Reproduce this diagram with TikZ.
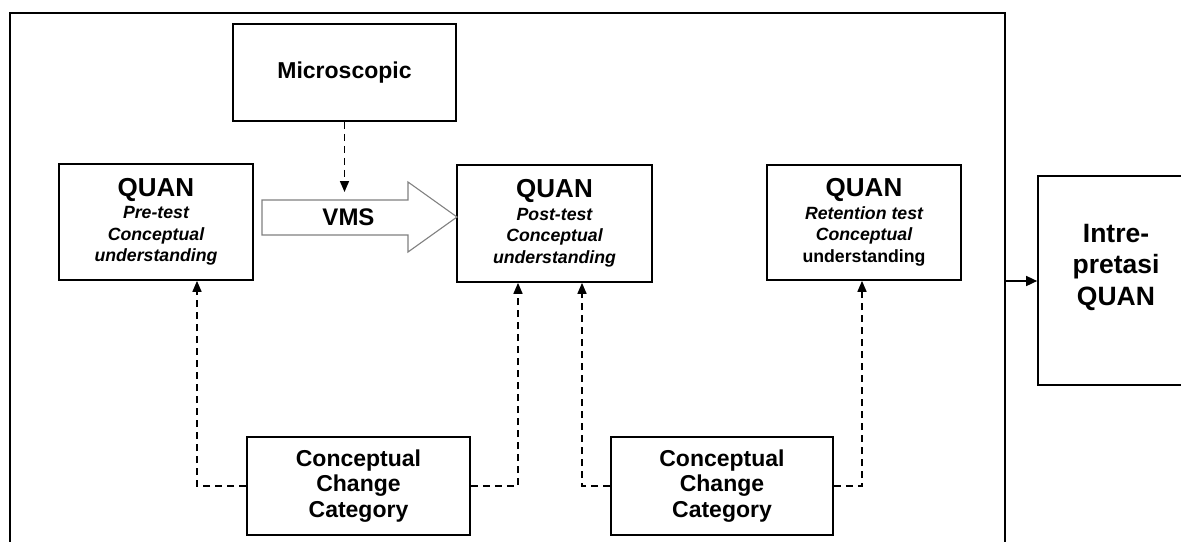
\documentclass[tikz,border=0pt]{standalone}
\usepackage{fontspec}
\setmainfont{Liberation Sans}
\usetikzlibrary{arrows.meta}
\begin{document}
\begin{tikzpicture}[x=1pt,y=-1pt,
  box/.style={draw,line width=1.7pt,inner sep=0pt,align=center,font=\bfseries},
  quan/.style={font=\bfseries\fontsize{17.7}{21.5}\selectfont},
  dasharrow/.style={line width=1.6pt,dash pattern=on 7pt off 5pt,-{Triangle[length=11pt,width=9pt]}},
  solidarrow/.style={line width=1.6pt,-{Triangle[length=11pt,width=10pt]}},
  ]
\useasboundingbox (0,0) rectangle (1181,541);
\clip (0,0) rectangle (1181,541);
% outer frame
\draw[line width=1.9pt] (10,560) |- (1005,13) -- (1005,560);
\coordinate (fr) at (1005,281);

% boxes
\node[box,minimum width=223pt,minimum height=97pt] (micro) at (344.5,72.5)
  {\fontsize{23}{26}\selectfont Microscopic};
\node[box,quan,minimum width=194pt,minimum height=116pt] (pre) at (156,222)
  {{\fontsize{26}{24}\selectfont QUAN}\\[1pt] \itshape Pre-test\\ \itshape Conceptual\\ \itshape understanding};
\node[box,quan,minimum width=195pt,minimum height=117pt] (post) at (554.5,223.5)
  {{\fontsize{26}{24}\selectfont QUAN}\\[1pt] \itshape Post-test\\ \itshape Conceptual\\ \itshape understanding};
\node[box,quan,minimum width=194pt,minimum height=115pt] (ret) at (864,222.5)
  {{\fontsize{26}{24}\selectfont QUAN}\\[1pt] \itshape Retention test\\ \itshape Conceptual\\ understanding};
\node[box,minimum width=223pt,minimum height=98pt,font=\bfseries\fontsize{23}{25.5}\selectfont] (cc1) at (358.5,486)
  {Conceptual\\ Change\\ Category};
\node[box,minimum width=222pt,minimum height=98pt,font=\bfseries\fontsize{23}{25.5}\selectfont] (cc2) at (722,486)
  {Conceptual\\ Change\\ Category};
\node[box,minimum width=156pt,minimum height=209pt] (intp) at (1116,280.5) {};
\node[align=center,font=\bfseries\fontsize{26.5}{31.5}\selectfont] (intptext) at (1116,267)
  {Intre-\\ pretasi\\ QUAN};

% VMS block arrow
\draw[line width=1.1pt,draw=black!50,fill=white]
  (262,200) -- (408,200) -- (408,182) -- (457,217) -- (408,252) -- (408,235) -- (262,235) -- cycle;
\node[font=\bfseries\fontsize{24}{26}\selectfont] (vms) at (348.5,217) {VMS};

% connectors
\coordinate (vmstop) at (344.5,192);
\draw[dasharrow] (micro.south) -- (vmstop);
\draw[dasharrow] (cc1.west) -| ([xshift=41pt]pre.south);
\draw[dasharrow] (cc1.east) -| ([xshift=-36.5pt]post.south);
\draw[dasharrow] (cc2.west) -| ([xshift=27.5pt]post.south);
\draw[dasharrow] (cc2.east) -| ([xshift=-2pt]ret.south);
\draw[solidarrow] (fr) -- (fr -| intp.west);
\end{tikzpicture}
\end{document}
